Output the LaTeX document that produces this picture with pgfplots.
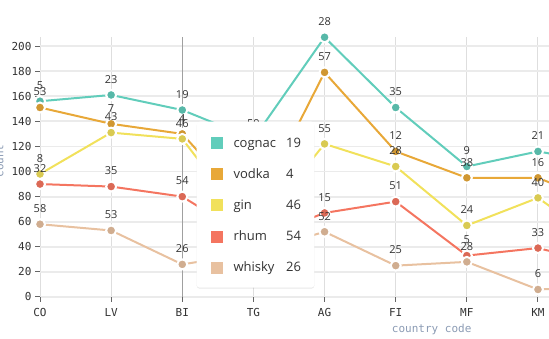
\documentclass[border=0pt]{standalone}
\usepackage{fontspec}
\setmainfont{Open Sans}
\setmonofont{DejaVu Sans Mono}
\usepackage{pgfplots}
\pgfplotsset{compat=1.18}
\usepackage{pgfplotstable}
\usetikzlibrary{shadows}

\definecolor{cognacc}{HTML}{61CDBB}
\definecolor{vodkac}{HTML}{E8A838}
\definecolor{ginc}{HTML}{F1E15B}
\definecolor{rhumc}{HTML}{F47560}
\definecolor{whiskyc}{HTML}{E8C1A0}
\definecolor{cognacp}{HTML}{57B8A8}
\definecolor{vodkap}{HTML}{D09732}
\definecolor{ginp}{HTML}{D9CA52}
\definecolor{rhump}{HTML}{DB6956}
\definecolor{whiskyp}{HTML}{D0AD90}
\definecolor{hgrid}{HTML}{EBEBEB}
\definecolor{vgrid}{HTML}{DEDEDE}
\definecolor{tickc}{HTML}{666666}
\definecolor{textc}{HTML}{333333}
\definecolor{legc}{HTML}{8B9BB4}
\definecolor{crossc}{HTML}{A0A0A0}

% raw (unstacked) values; x = category index (8 = next category, off the right edge)
\pgfplotstableread{
x v
0 58
1 53
2 26
3 35
4 52
5 25
6 28
7 6
8 8
}\whisky
\pgfplotstableread{
x v
0 32
1 35
2 54
3 10
4 15
5 51
6 5
7 33
8 17
}\rhum
\pgfplotstableread{
x v
0 8
1 43
2 46
3 7
4 55
5 28
6 24
7 40
8 14
}\gin
\pgfplotstableread{
x v
0 53
1 7
2 4
3 15
4 57
5 12
6 38
7 16
8 33
}\vodka
\pgfplotstableread{
x v
0 5
1 23
2 19
3 59
4 28
5 35
6 9
7 21
8 34
}\cognac

\pgfplotsset{
  base/.style={
    at={(40pt,42pt)}, anchor=south west,
    scale only axis, width=509pt, height=260pt,
    xmin=0, xmax=7.155, ymin=0, ymax=207.2,
    stack plots=y, clip=true,
  }
}

\begin{document}
\begin{tikzpicture}
\useasboundingbox (0pt,0pt) rectangle (549pt,339pt);
\clip (0pt,0pt) rectangle (549pt,339pt);

\begin{axis}[base,
  xtick={0,...,7}, xticklabels={CO,LV,BI,TG,AG,FI,MF,KM},
  ytick={0,20,...,200},
  xmajorgrids, ymajorgrids,
  x grid style={vgrid, line width=1pt},
  y grid style={hgrid, line width=1.8pt},
  axis line style={draw=none},
  xtick pos=bottom, ytick pos=left, tick align=outside,
  major tick length=5pt,
  tick style={tickc, line width=1pt},
  ticklabel style={font=\ttfamily\fontsize{11}{13}\selectfont, text=textc},
  xticklabel style={yshift=-3pt},
  /pgf/number format/assume math mode=true,
]
\draw[crossc, line width=1.3pt] (axis cs:2,0) -- (axis cs:2,207.2);
\addplot[whiskyc, line width=2pt] table[x=x,y=v]{\whisky};
\addplot[rhumc, line width=2pt] table[x=x,y=v]{\rhum};
\addplot[ginc, line width=2pt] table[x=x,y=v]{\gin};
\addplot[vodkac, line width=2pt] table[x=x,y=v]{\vodka};
\addplot[cognacc, line width=2pt] table[x=x,y=v]{\cognac};
\end{axis}

\begin{axis}[base, hide axis,
  nodes near coords,
  every node near coord/.append style={font=\fontsize{11}{13}\selectfont, text=textc, anchor=base, inner sep=0pt, yshift=11.7pt},
  point meta=explicit symbolic,
  mark size=5pt,
]
\addplot[only marks, mark=*, mark options={fill=whiskyp, draw=white, line width=2pt}] table[x=x,y=v,meta=v]{\whisky};
\addplot[only marks, mark=*, mark options={fill=rhump, draw=white, line width=2pt}] table[x=x,y=v,meta=v]{\rhum};
\addplot[only marks, mark=*, mark options={fill=ginp, draw=white, line width=2pt}] table[x=x,y=v,meta=v]{\gin};
\addplot[only marks, mark=*, mark options={fill=vodkap, draw=white, line width=2pt}] table[x=x,y=v,meta=v]{\vodka};
\addplot[only marks, mark=*, mark options={fill=cognacp, draw=white, line width=2pt}] table[x=x,y=v,meta=v]{\cognac};
\end{axis}

% axis legends
\node[font=\ttfamily\fontsize{11}{13}\selectfont, text=legc, anchor=base] at (431.7pt,6pt) {country code};
\node[font=\ttfamily\fontsize{11}{13}\selectfont, text=legc, anchor=base, rotate=90] at (3.5pt,178pt) {count};

% tooltip
\path[fill=white, rounded corners=3pt, drop shadow={shadow xshift=0pt, shadow yshift=-1pt, opacity=0.18}] (196.7pt,51.3pt) rectangle (314.3pt,217.3pt);
\foreach \yc/\col/\name/\val in {195.8/cognacc/cognac/19, 164.6/vodkac/vodka/4, 133.5/ginc/gin/46, 102.4/rhumc/rhum/54, 71.3/whiskyc/whisky/26}{
  \fill[\col] (210.7pt,\yc pt-6pt) rectangle (222.7pt,\yc pt+6pt);
  \node[font=\fontsize{13}{15}\selectfont, text=textc, anchor=base west, inner sep=0pt] at (233.3pt,\yc pt-4pt) {\name};
  \node[font=\fontsize{13}{15}\selectfont, text=textc, anchor=base west, inner sep=0pt] at (286pt,\yc pt-4pt) {\val};
}
\end{tikzpicture}
\end{document}
